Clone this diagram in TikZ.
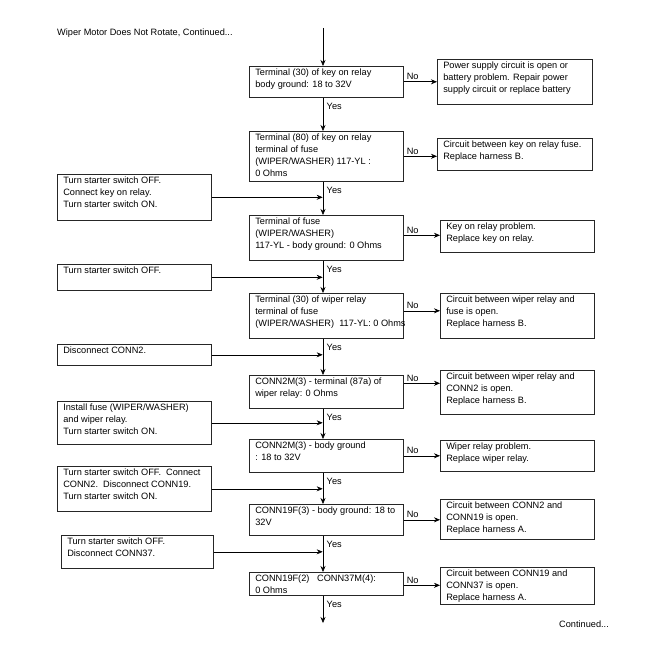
\documentclass[tikz,border=0pt]{standalone}
\usepackage{fontspec}
\setmainfont{Liberation Sans}
\usetikzlibrary{arrows.meta}
\newcommand\dfont{\fontsize{9.2}{12}\selectfont}
\tikzset{
  fbox/.style={draw=black!85, line width=0.6pt, anchor=north west, inner xsep=6pt, inner ysep=2.2pt, font=\dfont},
  arr/.style={-{Stealth[length=6pt,width=5pt]}, line width=0.6pt},
  lbl/.style={font=\dfont, inner sep=0pt},
}
% name, x, y (top-left), width, height, text
\newcommand\fbx[6]{\node[fbox] (#1) at (#2,#3) {\parbox[b][\dimexpr#5pt-4.4pt\relax][t]{\dimexpr#4pt-12pt\relax}{\raggedright #6}};}
\begin{document}
\begin{tikzpicture}[x=1pt,y=-1pt]
\useasboundingbox (0,0) rectangle (650,650);
\node[lbl, anchor=west] (title) at (57,33) {Wiper Motor Does Not Rotate, Continued...};
\node[lbl, anchor=west] (cont) at (559,624) {Continued...};
\coordinate (L) at (323,0);
\coordinate (top) at (323,28);
\coordinate (bot) at (323,623);

% main column
\fbx{b1}{249}{66}{154}{31}{Terminal (30) of key on relay\\body ground: 18 to 32V}
\fbx{b2}{249}{131}{154}{50}{Terminal (80) of key on relay\\terminal of fuse\\(WIPER/WASHER) 117-YL :\\0 Ohms}
\fbx{b3}{249}{215}{154}{45}{Terminal of fuse\\(WIPER/WASHER)\\117-YL - body ground: 0 Ohms}
\fbx{b4}{249}{293}{154}{45}{Terminal (30) of wiper relay\\terminal of fuse\\\mbox{(WIPER/WASHER)\ \ 117-YL: 0 Ohms}}
\fbx{b5}{249}{375}{154}{33}{CONN2M(3) - terminal (87a) of\\wiper relay: 0 Ohms}
\fbx{b6}{249}{439}{154}{33}{CONN2M(3) - body ground\\: 18 to 32V}
\fbx{b7}{249}{504}{154}{31}{CONN19F(3) - body ground: 18 to\\32V}
\fbx{b8}{249}{572}{154}{23}{CONN19F(2)\ \ \ CONN37M(4):\\0 Ohms}

% No boxes
\fbx{n1}{437}{59}{155}{45}{Power supply circuit is open or\\battery problem. Repair power\\supply circuit or replace battery}
\fbx{n2}{437}{138}{155}{32}{Circuit between key on relay fuse.\\Replace harness B.}
\fbx{n3}{440}{220}{154}{32}{Key on relay problem.\\Replace key on relay.}
\fbx{n4}{440}{293}{154}{45}{Circuit between wiper relay and\\fuse is open.\\Replace harness B.}
\fbx{n5}{440}{370}{154}{44}{Circuit between wiper relay and\\CONN2 is open.\\Replace harness B.}
\fbx{n6}{440}{440}{154}{31}{Wiper relay problem.\\Replace wiper relay.}
\fbx{n7}{440}{499}{154}{40}{Circuit between CONN2 and\\CONN19 is open.\\Replace harness A.}
\fbx{n8}{440}{567}{154}{37}{Circuit between CONN19 and\\CONN37 is open.\\Replace harness A.}

% left boxes
\fbx{la}{57}{174}{154}{46}{Turn starter switch OFF.\\Connect key on relay.\\Turn starter switch ON.}
\fbx{lb}{57}{264}{154}{26}{Turn starter switch OFF.}
\fbx{lc}{57}{344}{154}{21}{Disconnect CONN2.}
\fbx{ld}{57}{401}{154}{43}{Install fuse (WIPER/WASHER)\\and wiper relay.\\Turn starter switch ON.}
\fbx{le}{57}{466}{154}{45}{Turn starter switch OFF.\ \ Connect\\CONN2.\ \ Disconnect CONN19.\\Turn starter switch ON.}
\fbx{lf}{61}{535}{152}{33}{Turn starter switch OFF.\\Disconnect CONN37.}

% vertical flow
\draw[arr] (top) -- (b1.north -| L);
\draw[arr] (b1.south -| L) -- (b2.north -| L);
\draw[arr] (b2.south -| L) -- (b3.north -| L);
\draw[arr] (b3.south -| L) -- (b4.north -| L);
\draw[arr] (b4.south -| L) -- (b5.north -| L);
\draw[arr] (b5.south -| L) -- (b6.north -| L);
\draw[arr] (b6.south -| L) -- (b7.north -| L);
\draw[arr] (b7.south -| L) -- (b8.north -| L);
\draw[arr] (b8.south -| L) -- (bot);

% Yes labels
\foreach \i in {1,...,8}{
  \node[lbl, anchor=west] (yes\i) at ([xshift=3.5pt,yshift=-9pt]b\i.south -| L) {Yes};
}

% No arrows
\coordinate (a1) at ([yshift=0pt]b1.east);
\coordinate (a2) at ([yshift=0pt]b2.east);
\coordinate (a3) at ([yshift=2.5pt]b3.east);
\coordinate (a4) at ([yshift=5pt]b4.east);
\coordinate (a5) at ([yshift=8.5pt]b5.east);
\coordinate (a6) at ([yshift=0pt]b6.east);
\coordinate (a7) at ([yshift=0pt]b7.east);
\coordinate (a8) at ([yshift=-1.5pt]b8.east);
\foreach \i in {1,...,8}{
  \draw[arr] (a\i) -- (a\i -| n\i.west);
  \node[lbl, anchor=south west] (no\i) at ([xshift=3pt,yshift=2pt]a\i) {No};
}

% left arrows into main line
\foreach \n in {la,lb,lc,ld,le,lf}{
  \draw[arr] (\n.east) -- ([xshift=-0.3pt]\n.east -| L);
}
\end{tikzpicture}
\end{document}
